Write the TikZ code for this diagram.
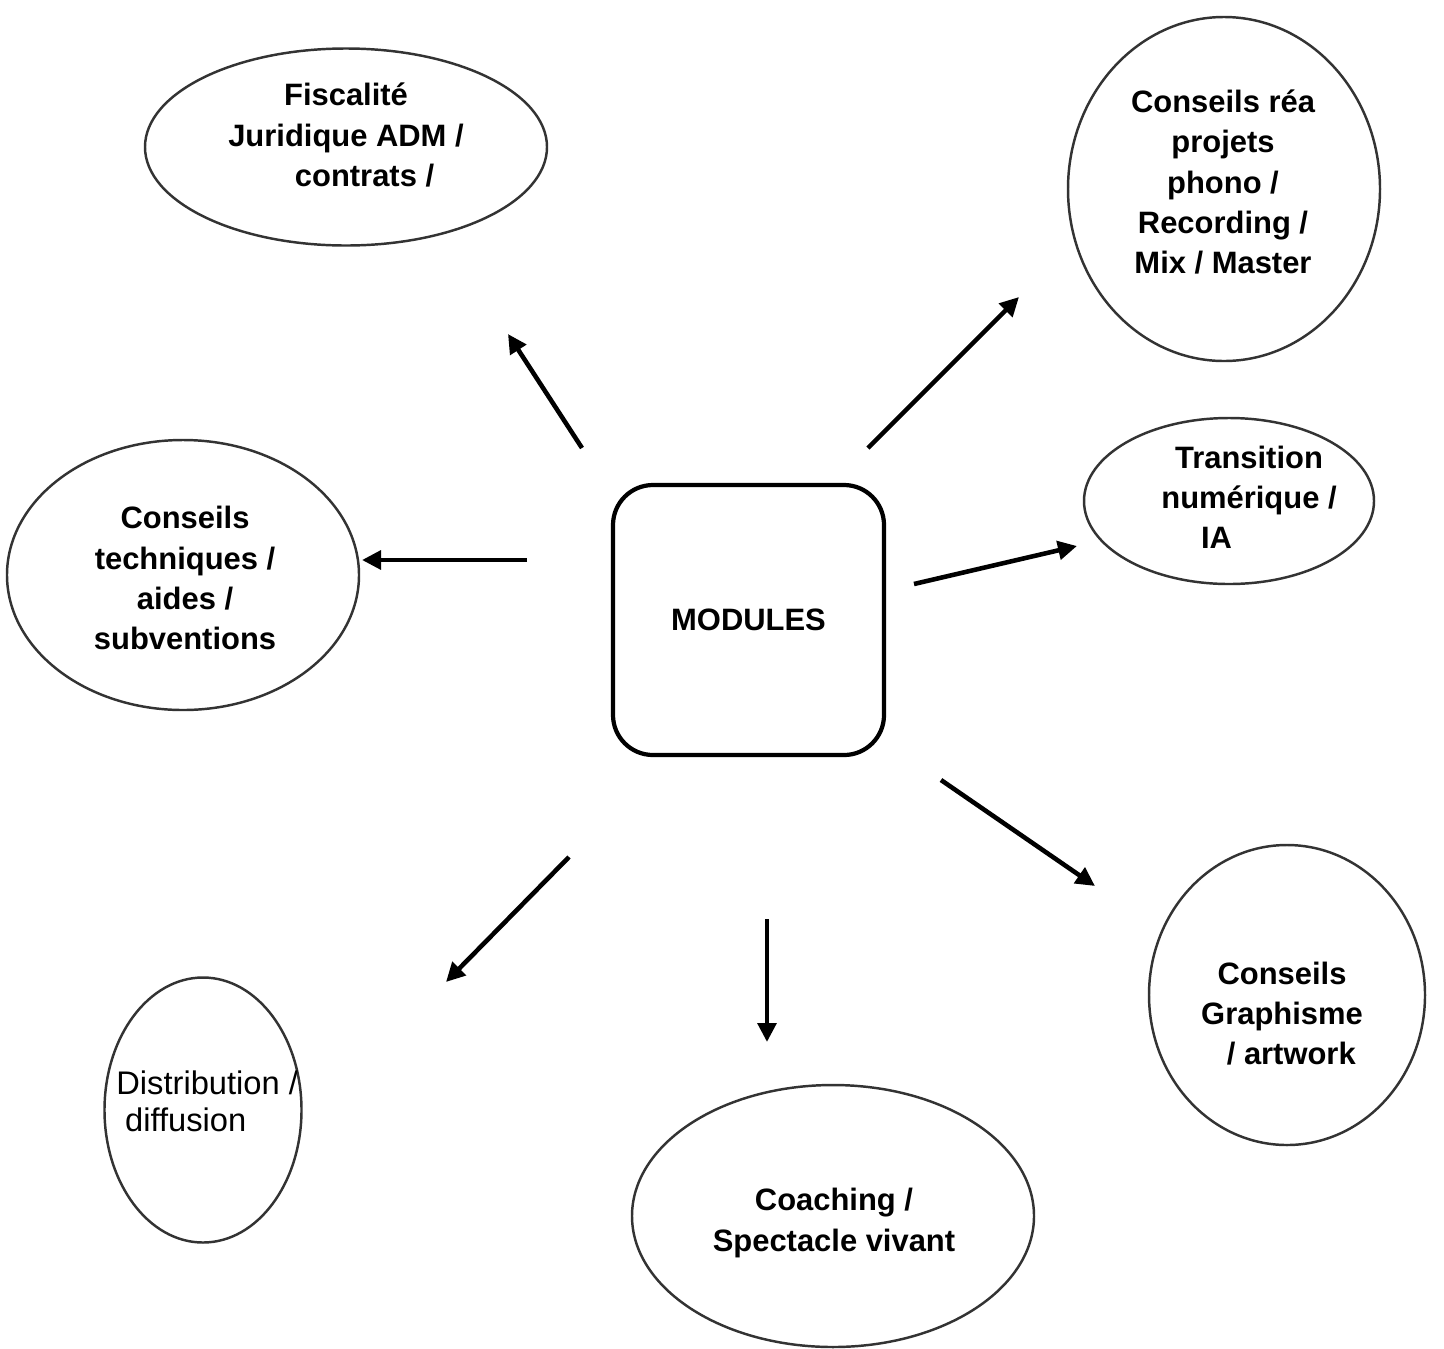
\documentclass[tikz,border=0pt]{standalone}
\usepackage{fontspec}
\setmainfont{Liberation Sans}
\usetikzlibrary{shapes.geometric,arrows.meta}
\begin{document}
\begin{tikzpicture}[scale=0.2]
			\tikzstyle{every node}+=[inner sep=0pt, align=center, font=\fontsize{17.6}{22.8}\selectfont\bfseries]
			\tikzstyle{bulle}=[draw=black!80, line width=1.4pt, ellipse]
			\tikzstyle{fleche}=[black, line width=2.6pt, -{Triangle[length=0.38cm,width=0.37cm]}]
			\useasboundingbox (0,0) rectangle (144.4,-134.8);
			\node [draw, line width=2.4pt, rounded corners=0.8cm, minimum width=5.42cm, minimum height=5.4cm] (modules) at (74.85,-62.0) {MODULES};
			\node [bulle, minimum width=8.04cm, minimum height=3.94cm] (fisc) at (34.6,-14.7) {};
			\node (fisc-t) at (34.6,-13.5) {Fiscalité\\Juridique ADM /\\\hspace*{1.2em}contrats /};
			\node [bulle, minimum width=6.24cm, minimum height=6.88cm] (rea) at (122.4,-18.9) {};
			\node (rea-t) at (122.3,-18.2) {Conseils réa\\projets\\phono /\\Recording /\\Mix / Master};
			\node [bulle, minimum width=5.8cm, minimum height=3.32cm] (trans) at (122.9,-50.1) {};
			\node (trans-t) at (124.9,-49.7) {Transition\\numérique /\\IA\hspace*{2.1em}};
			\node [bulle, minimum width=7.04cm, minimum height=5.4cm] (tech) at (18.3,-57.5) {};
			\node (tech-t) at (18.5,-57.8) {Conseils\\techniques /\\aides /\\subventions};
			\node [bulle, minimum width=3.94cm, minimum height=5.3cm] (distrib) at (20.3,-111.0) {};
			\node [anchor=west, align=left, font=\fontsize{18.6}{21}\selectfont\mdseries] (distrib-t) at (11.6,-110.1) {Distribution /\\\hspace*{0.27em}diffusion};
			\node [bulle, minimum width=8.04cm, minimum height=5.24cm] (coach) at (83.3,-121.6) {};
			\node (coach-t) at (83.4,-122.3) {Coaching /\\Spectacle vivant};
			\node [bulle, minimum width=5.52cm, minimum height=6.0cm] (graph) at (128.7,-99.5) {};
			\node (graph-t) at (128.2,-101.4) {Conseils\\Graphisme\\\hspace*{0.6em}/ artwork};
			\coordinate (fisc-a) at (58.2,-44.8);
			\coordinate (fisc-b) at (50.8,-33.4);
			\coordinate (rea-a) at (86.8,-44.8);
			\coordinate (rea-b) at (101.9,-29.7);
			\coordinate (tech-a) at (52.7,-56.0);
			\coordinate (tech-b) at (36.2,-56.0);
			\coordinate (trans-a) at (91.4,-58.4);
			\coordinate (trans-b) at (107.7,-54.6);
			\coordinate (graph-a) at (94.1,-78.0);
			\coordinate (graph-b) at (109.5,-88.6);
			\coordinate (distrib-a) at (56.9,-85.7);
			\coordinate (distrib-b) at (44.6,-98.2);
			\coordinate (coach-a) at (76.7,-91.9);
			\coordinate (coach-b) at (76.7,-104.2);
			\draw [fleche] (fisc-a) -- (fisc-b);
			\draw [fleche] (rea-a) -- (rea-b);
			\draw [fleche] (tech-a) -- (tech-b);
			\draw [fleche] (trans-a) -- (trans-b);
			\draw [fleche] (graph-a) -- (graph-b);
			\draw [fleche] (distrib-a) -- (distrib-b);
			\draw [fleche] (coach-a) -- (coach-b);
\end{tikzpicture}
\end{document}
